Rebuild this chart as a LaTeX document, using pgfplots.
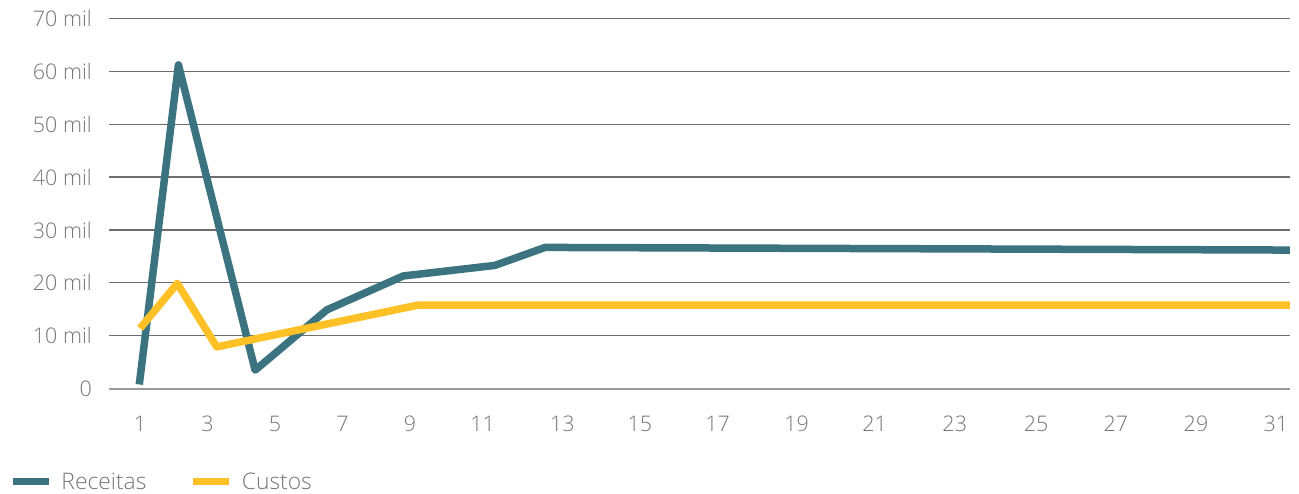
\documentclass[border=0pt]{standalone}
\usepackage{fontspec}
\IfFontExistsTF{Open Sans Light}{\setmainfont{Open Sans Light}}{\setmainfont{Open Sans}}
\usepackage{pgfplots}
\pgfplotsset{compat=1.18}
\definecolor{receitas}{HTML}{3B7380}
\definecolor{custos}{HTML}{FFC126}
\definecolor{gridgray}{HTML}{6E6E6E}
\definecolor{basegray}{HTML}{9A9A9A}
\definecolor{labelgray}{HTML}{767676}

\begin{document}
\begin{tikzpicture}[x=1pt,y=1pt]
\path[use as bounding box] (0,0) rectangle (1299,494);
\begin{axis}[
  at={(109pt,105.3pt)}, anchor=south west,
  scale only axis, width=1181pt, height=370.4pt,
  xmin=0.21, xmax=31, ymin=0, ymax=70000,
  scaled y ticks=false,
  axis x line*=bottom, axis y line*=left,
  y axis line style={draw=none},
  x axis line style={-, basegray, line width=2pt},
  major tick length=0pt,
  ytick={0,10000,20000,30000,40000,50000,60000,70000},
  yticklabels={0,10 mil,20 mil,30 mil,40 mil,50 mil,60 mil,70 mil},
  xtick={1.02,2.78,4.54,6.30,8.06,9.95,12.03,14.05,16.08,18.14,20.17,22.26,24.38,26.46,28.55,30.63},
  xticklabels={1,3,5,7,9,11,13,15,17,19,21,23,25,27,29,31},
  ymajorgrids,
  grid style={gridgray, line width=1.2pt},
  ticklabel style={font=\fontsize{21.5}{25}\selectfont, text=labelgray},
  yticklabel style={anchor=east, inner sep=0pt, xshift=-17pt},
  xticklabel style={anchor=center, inner sep=0pt, yshift=-35pt},
  legend columns=2,
  legend style={at={(rel axis cs:0,0)}, anchor=west, xshift=-100pt, yshift=-92.8pt,
    draw=none, fill=none, inner sep=0pt, outer sep=0pt,
    font=\fontsize{22.8}{26}\selectfont, text=labelgray,
    nodes={inner sep=0pt},
    /tikz/every odd column/.append style={column sep=9pt},
    /tikz/every even column/.append style={column sep=0pt}},
  legend image code/.code={\draw[#1] (0pt,0pt) -- (36pt,0pt);},
]
\addplot[receitas, line width=7.5pt, line join=round] coordinates {
  (1,800) (2.02,61200) (4.02,3500) (5.89,14900) (7.88,21300)
  (10.27,23300) (11.58,26700) (31,26200)
};
\addlegendentry{\makebox[128pt][l]{Receitas}}
\addplot[custos, line width=7.5pt, line join=round] coordinates {
  (1.02,11400) (1.99,19900) (3.02,7900) (8.27,15800) (31,15800)
};
\addlegendentry{Custos}
\end{axis}
\end{tikzpicture}
\end{document}
